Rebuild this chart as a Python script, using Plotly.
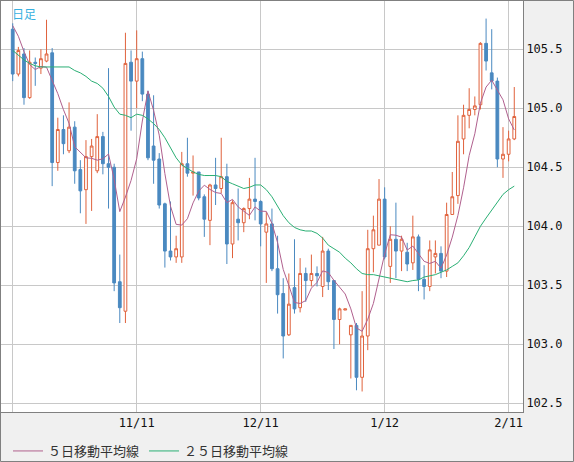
import pandas as pd
import plotly.graph_objects as go

# trading days shown on the chart (10/12 .. 2/12)
dates = pd.bdate_range("2020-10-12", "2021-02-12").strftime("%Y-%m-%d").tolist()

open_ = [105.67, 105.29, 105.46, 105.09, 105.39, 105.34, 105.40, 105.47, 104.54, 104.82,
         104.64, 104.84, 104.48, 104.31, 104.59, 104.47, 104.76, 104.53, 104.50, 103.53,
         103.28, 105.39, 105.23, 105.42, 105.12, 104.68, 104.57, 104.19, 103.79, 103.74,
         103.74, 104.53, 104.45, 104.46, 104.25, 104.05, 104.35, 104.32, 104.42, 103.85,
         104.06, 104.03, 104.15, 104.23, 104.21, 103.95, 104.02, 103.64, 103.43, 103.08,
         103.48, 103.31, 103.60, 103.54, 103.60, 103.49, 103.79, 103.54, 103.21, 103.29,
         103.08, 103.16, 102.72, 103.07, 103.81, 103.84, 104.23, 103.66, 103.89, 103.79,
         103.78, 103.69, 103.91, 103.55, 103.49, 103.74, 103.77, 103.62, 104.10, 104.26,
         104.74, 104.94, 104.99, 105.03, 105.55, 105.30, 105.23, 104.57, 104.61, 104.74]
high = [105.72, 105.52, 105.51, 105.49, 105.43, 105.50, 105.75, 105.51, 104.92, 104.94,
        105.05, 104.89, 104.56, 104.73, 104.74, 104.95, 104.80, 105.34, 104.53, 103.76,
        105.64, 105.49, 105.66, 105.48, 105.15, 105.11, 104.62, 104.20, 104.21, 103.92,
        104.63, 104.75, 104.60, 104.46, 104.27, 104.36, 104.58, 104.75, 104.53, 104.22,
        104.32, 104.16, 104.41, 104.58, 104.22, 104.12, 104.15, 103.92, 103.56, 103.60,
        103.89, 103.73, 103.65, 103.76, 103.66, 103.91, 103.81, 103.54, 103.31, 103.30,
        103.16, 103.18, 103.45, 103.97, 104.09, 104.40, 104.33, 104.00, 104.20, 103.92,
        103.86, 104.09, 103.93, 103.67, 103.88, 103.88, 103.83, 104.20, 104.46, 104.94,
        105.03, 105.17, 105.10, 105.56, 105.76, 105.67, 105.26, 104.84, 104.81, 105.18]
low = [105.23, 105.27, 105.03, 105.08, 105.19, 105.29, 105.39, 104.34, 104.47, 104.61,
       104.62, 104.36, 104.11, 104.02, 104.13, 104.45, 104.44, 104.15, 103.45, 103.18,
       103.18, 104.81, 105.00, 105.06, 104.56, 104.36, 104.15, 103.65, 103.71, 103.69,
       103.69, 104.42, 104.26, 104.22, 103.91, 103.84, 104.18, 104.28, 103.68, 103.73,
       103.88, 103.95, 104.06, 104.05, 103.83, 103.52, 103.62, 103.26, 102.88, 103.07,
       103.26, 103.27, 103.36, 103.49, 103.49, 103.40, 103.46, 102.96, 103.00, 103.29,
       102.71, 102.61, 102.60, 102.95, 103.61, 103.84, 103.72, 103.52, 103.56, 103.62,
       103.62, 103.63, 103.45, 103.38, 103.45, 103.60, 103.56, 103.57, 104.10, 104.19,
       104.61, 104.83, 104.94, 104.99, 105.32, 105.16, 104.50, 104.41, 104.55, 104.73]
close = [105.29, 105.49, 105.09, 105.39, 105.38, 105.42, 105.46, 104.54, 104.82, 104.70,
         104.84, 104.47, 104.30, 104.59, 104.68, 104.76, 104.53, 104.50, 103.52, 103.31,
         105.38, 105.23, 105.42, 105.12, 104.58, 104.56, 104.18, 103.79, 103.74, 103.81,
         104.53, 104.45, 104.46, 104.24, 104.06, 104.35, 104.32, 104.42, 103.85, 104.20,
         104.03, 104.15, 104.23, 104.21, 104.02, 104.02, 103.64, 103.42, 103.07, 103.34,
         103.30, 103.60, 103.54, 103.60, 103.58, 103.79, 103.53, 103.21, 103.30, 103.30,
         103.16, 102.72, 103.07, 103.81, 103.97, 104.23, 103.74, 103.89, 103.79, 103.89,
         103.68, 103.91, 103.55, 103.49, 103.80, 103.77, 103.62, 104.10, 104.25, 104.72,
         104.94, 104.99, 105.02, 105.55, 105.40, 105.23, 104.57, 104.61, 104.74, 104.93]

ma5 = [105.70, 105.61, 105.48, 105.37, 105.328, 105.354, 105.348, 105.238, 105.124, 104.988,
       104.872, 104.674, 104.626, 104.580, 104.576, 104.560, 104.572, 104.612, 104.398, 104.124,
       104.248, 104.388, 104.572, 104.892, 105.146, 104.982, 104.772, 104.446, 104.170, 104.016,
       104.010, 104.064, 104.198, 104.298, 104.348, 104.312, 104.286, 104.278, 104.200, 104.228,
       104.164, 104.130, 104.092, 104.164, 104.128, 104.126, 104.024, 103.862, 103.634, 103.498,
       103.354, 103.346, 103.370, 103.476, 103.524, 103.622, 103.608, 103.542, 103.482, 103.426,
       103.300, 103.138, 103.110, 103.212, 103.346, 103.560, 103.764, 103.928, 103.924, 103.908,
       103.798, 103.832, 103.763, 103.703, 103.685, 103.703, 103.645, 103.756, 103.908, 104.092,
       104.326, 104.600, 104.784, 105.044, 105.180, 105.238, 105.154, 105.072, 104.910, 104.816]
ma25 = [105.49, 105.45, 105.41, 105.38, 105.36, 105.35, 105.35, 105.345, 105.35, 105.35,
        105.35, 105.32, 105.30, 105.27, 105.23, 105.21, 105.17, 105.10, 105.01, 104.95,
        104.94, 104.92, 104.95, 104.94, 104.91, 104.87, 104.82, 104.75, 104.66, 104.58,
        104.52, 104.49, 104.46, 104.44, 104.43, 104.43, 104.43, 104.42, 104.38, 104.36,
        104.34, 104.32, 104.33, 104.35, 104.35, 104.31, 104.25, 104.17, 104.09, 104.03,
        103.99, 103.97, 103.96, 103.96, 103.94, 103.90, 103.84, 103.81, 103.78, 103.73,
        103.69, 103.64, 103.60, 103.59, 103.59, 103.58, 103.57, 103.56, 103.55, 103.54,
        103.53, 103.54, 103.545, 103.57, 103.58, 103.59, 103.61, 103.63, 103.66, 103.69,
        103.75, 103.82, 103.91, 104.00, 104.07, 104.14, 104.21, 104.27, 104.31, 104.34]

tick_dates = ["2020-10-12", "2020-11-11", "2020-12-11", "2021-01-12", "2021-02-11"]
tick_text = ["", "11/11", "12/11", "1/12", "2/11"]
price_ticks = [102.5, 103.0, 103.5, 104.0, 104.5, 105.0, 105.5]

RED = "#e0623c"
BLUE = "#4a89c0"
W, H = 574, 462
ML, MR, MT, MB = 1, 51, 1, 50
pw, ph = W - ML - MR, H - MT - MB


def px(x):
    return (x - ML) / pw


def py(y):
    return (H - MB - y) / ph


# one slot per trading day, labelled through ticktext
xs = list(range(len(dates)))

fig = go.Figure()
fig.add_trace(go.Candlestick(
    x=xs, open=open_, high=high, low=low, close=close,
    increasing=dict(line=dict(color=RED, width=1), fillcolor="white"),
    decreasing=dict(line=dict(color=BLUE, width=1), fillcolor=BLUE),
    whiskerwidth=0, showlegend=False, hoverinfo="skip"))
fig.add_trace(go.Scatter(x=xs, y=ma5, mode="lines", name="５日移動平均線",
                         line=dict(color="#b0608e", width=1)))
fig.add_trace(go.Scatter(x=xs, y=ma25, mode="lines", name="２５日移動平均線",
                         line=dict(color="#2aaf74", width=1)))

axis_font = dict(family="DejaVu Sans Mono", size=12, color="#111")
fig.update_layout(
    width=W, height=H, autosize=False,
    margin=dict(l=ML, r=MR, t=MT, b=MB, autoexpand=False),
    paper_bgcolor="#f0f0f0", plot_bgcolor="white",
    xaxis=dict(range=[-2.08, 90.55], tickvals=[dates.index(d) for d in tick_dates],
               ticktext=tick_text, automargin=False,
               showgrid=True, gridcolor="#c8c8c8", gridwidth=1, ticks="", zeroline=False,
               showline=True, linecolor="#808080", mirror=True,
               rangeslider=dict(visible=False), tickfont=axis_font),
    yaxis=dict(side="right", range=[102.426, 105.909], tickvals=price_ticks,
               ticktext=[f"{v:.1f}" for v in price_ticks], automargin=False,
               showgrid=True, gridcolor="#c8c8c8", gridwidth=1, ticks="", zeroline=False,
               showline=True, linecolor="#808080", mirror=True, tickfont=axis_font),
    showlegend=True,
    legend=dict(orientation="h", x=px(8), y=py(436), xanchor="left", yanchor="top",
                bgcolor="rgba(0,0,0,0)", itemwidth=30,
                font=dict(family="Noto Sans CJK JP", size=13, color="#333")),
    annotations=[dict(text="日足", x=px(10), y=py(3), xref="paper", yref="paper",
                      xanchor="left", yanchor="top", showarrow=False,
                      font=dict(family="Noto Sans CJK JP", size=12, color="#38b0e0"))],
    shapes=[dict(type="rect", xref="paper", yref="paper",
                 x0=px(0.5), x1=px(W - 0.5), y0=py(H - 0.5), y1=py(0.5),
                 line=dict(color="#808080", width=1), layer="above")],
)

# page body margin would push the figure 8px off the window
fig.write_html("out.html", config={"displayModeBar": False},
               post_script="document.body.style.margin='0';")
